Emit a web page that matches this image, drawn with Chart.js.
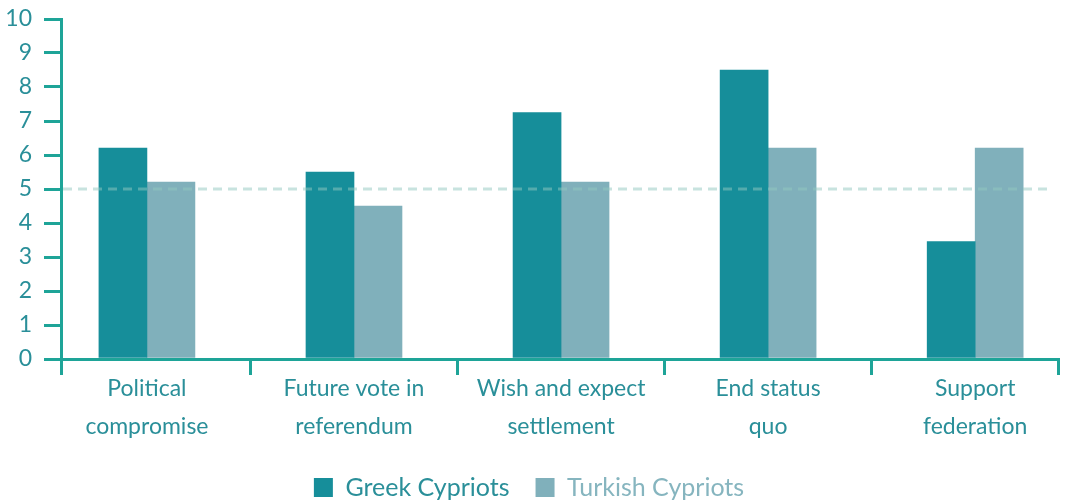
<!DOCTYPE html>
<html>
<head>
<meta charset="utf-8">
<script src="https://cdn.jsdelivr.net/npm/chart.js@4/dist/chart.umd.min.js"></script>
<style>
    html, body { margin: 0; padding: 0; background: #fff; }
    #wrap { width: 1065px; height: 502px; }
</style>
</head>
<body>
<div id="wrap"><canvas id="chart"></canvas></div>
<script>
let categories = [
    ['Political', 'compromise'],
    ['Future vote in', 'referendum'],
    ['Wish and expect', 'settlement'],
    ['End status', 'quo'],
    ['Support', 'federation']
];
let greek = [6.2, 5.5, 7.25, 8.5, 3.45];
let turkish = [5.2, 4.5, 5.2, 6.2, 6.2];
let yTicks = [0, 1, 2, 3, 4, 5, 6, 7, 8, 9, 10];
let midpoint = 5;

let axisColor = '#1ea498';
let textColor = '#2a8f99';
let greekColor = '#168e9a';
let turkishColor = '#80b0bb';

// x runs on a linear scale so the axis can stop short of the outer bars
let xMin = -0.415;
let xMax = 4.4;

let toPoints = (arr) => arr.map((v, i) => ({ x: i, y: v }));

// dashed line across the plot at the midpoint of the scale
let midLine = {
    id: 'midLine',
    afterDatasetsDraw(chart) {
        let { ctx, chartArea, scales } = chart;
        let y = scales.y.getPixelForValue(midpoint);
        ctx.save();
        ctx.strokeStyle = 'rgba(145, 199, 191, 0.5)';
        ctx.lineWidth = 3;
        ctx.setLineDash([9, 6]);
        ctx.beginPath();
        ctx.moveTo(chartArea.left + 2, y);
        ctx.lineTo(chartArea.right - 10, y);
        ctx.stroke();
        ctx.restore();
    }
};

let graph = new Chart(document.getElementById('chart'), {
    type: 'bar',
    data: {
        datasets: [{
            label: 'Greek Cypriots',
            data: toPoints(greek),
            backgroundColor: greekColor,
            barThickness: 48
        }, {
            label: 'Turkish Cypriots',
            data: toPoints(turkish),
            backgroundColor: turkishColor,
            barThickness: 48
        }]
    },
    options: {
        responsive: true,
        maintainAspectRatio: false,
        animation: false,
        layout: {
            padding: { top: 19, right: 7, left: 0, bottom: -8 }
        },
        plugins: {
            tooltip: { enabled: false },
            legend: {
                position: 'bottom',
                labels: {
                    boxWidth: 19,
                    boxHeight: 19,
                    padding: 26,
                    font: { family: 'Lato', size: 25 },
                    generateLabels(chart) {
                        return chart.data.datasets.map((ds, i) => ({
                            text: ds.label,
                            fillStyle: ds.backgroundColor,
                            strokeStyle: ds.backgroundColor,
                            lineWidth: 0,
                            fontColor: i === 0 ? textColor : '#86b5bf',
                            datasetIndex: i
                        }));
                    }
                }
            }
        },
        scales: {
            x: {
                type: 'linear',
                position: 'bottom',
                weight: 0,
                offset: false,
                min: xMin,
                max: xMax,
                afterBuildTicks(scale) {
                    let marks = [scale.min];
                    for (let i = 1; i < categories.length; i++) marks.push(i - 0.5);
                    marks.push(scale.max);
                    scale.ticks = marks.map(v => ({ value: v }));
                },
                ticks: { display: false },
                grid: {
                    offset: false,
                    drawOnChartArea: false,
                    drawTicks: true,
                    tickLength: 16,
                    color: axisColor,
                    lineWidth: 3
                },
                border: { display: true, color: axisColor, width: 3 }
            },
            x2: {
                type: 'linear',
                position: 'bottom',
                weight: 1,
                offset: false,
                min: xMin,
                max: xMax,
                afterBuildTicks(scale) {
                    scale.ticks = categories.map((c, i) => ({ value: i }));
                },
                afterFit(scale) {
                    scale.height = 74;
                },
                ticks: {
                    autoSkip: false,
                    maxRotation: 0,
                    padding: -13,
                    color: textColor,
                    font: { family: 'Lato', size: 23, lineHeight: '38px' },
                    callback: (v, i) => categories[i]
                },
                grid: { display: false, offset: false },
                border: { display: false }
            },
            y: {
                min: 0,
                max: 10,
                afterBuildTicks(scale) {
                    scale.ticks = yTicks.map(v => ({ value: v }));
                },
                afterFit(scale) {
                    scale.width = 61;
                    scale.paddingTop = 0;
                    scale.paddingBottom = 0;
                },
                ticks: {
                    padding: 12,
                    color: textColor,
                    font: { family: 'Lato', size: 23 }
                },
                grid: {
                    drawOnChartArea: false,
                    drawTicks: true,
                    tickLength: 17,
                    color: axisColor,
                    lineWidth: 3
                },
                border: { display: true, color: axisColor, width: 3 }
            }
        }
    },
    plugins: [midLine]
});
</script>
</body>
</html>
